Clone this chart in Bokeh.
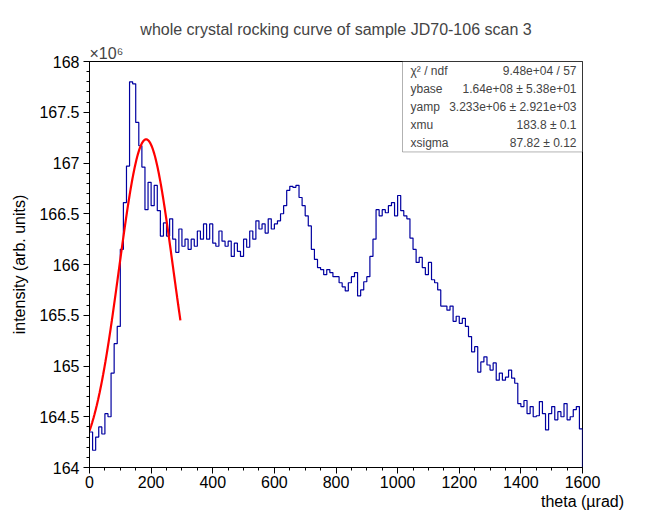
import numpy as np
from bokeh.plotting import figure
from bokeh.models import Label, BoxAnnotation, Range1d, FixedTicker, Title
from bokeh.embed import file_html
from bokeh.resources import INLINE

bin_width = 10
counts = [164.35,164.17,164.30,164.40,164.33,164.53,164.50,164.93,165.22,165.39,
166.15,166.61,166.97,167.80,167.78,167.40,167.17,166.96,166.54,166.81,
166.58,166.78,166.53,166.28,166.41,166.28,166.45,166.25,166.12,166.35,
166.18,166.25,166.15,166.25,166.18,166.33,166.25,166.40,166.25,166.40,
166.21,166.18,166.33,166.23,166.18,166.23,166.08,166.21,166.13,166.08,
166.25,166.17,166.33,166.25,166.43,166.35,166.40,166.31,166.45,166.35,
166.40,166.43,166.50,166.58,166.73,166.77,166.76,166.78,166.66,166.58,
166.48,166.38,166.15,166.05,165.97,165.95,165.90,165.95,165.92,165.88,
165.88,165.82,165.78,165.74,165.82,165.88,165.92,165.69,165.75,165.83,
165.88,166.08,166.25,166.54,166.48,166.54,166.51,166.58,166.61,166.48,
166.68,166.53,166.48,166.45,166.26,166.15,166.02,166.07,165.97,165.90,
166.02,165.85,165.82,165.75,165.59,165.59,165.55,165.59,165.44,165.49,
165.42,165.47,165.39,165.29,165.14,165.19,164.94,165.04,165.09,165.01,
164.96,165.03,164.86,164.93,164.86,164.89,164.96,164.88,164.83,164.63,
164.60,164.66,164.53,164.60,164.50,164.51,164.65,164.53,164.37,164.53,
164.60,164.47,164.55,164.50,164.63,164.47,164.50,164.57,164.60,164.38]

fit_base = 164.0
fit_amp = 3.233
fit_mu = 183.8
fit_sigma = 87.82
fit_xmax = 295

stat_names = ["\u03c7\u00b2 / ndf", "ybase", "yamp", "xmu", "xsigma"]
stat_values = ["9.48e+04 / 57", "1.64e+08 \u00b1 5.38e+01", "3.233e+06 \u00b1 2.921e+03",
               "183.8 \u00b1 0.1", "87.82 \u00b1 0.12"]

p = figure(width=640, height=512, output_backend="svg", toolbar_location=None,
           x_range=Range1d(0, 1600), y_range=Range1d(164, 168))
p.min_border_left = 89
p.min_border_right = 58
p.min_border_top = 61
p.min_border_bottom = 10
p.outline_line_color = "black"
p.grid.visible = False
p.border_fill_color = "white"

p.add_layout(Title(text="\u00d710\u2076", align="left", text_font="Liberation Sans",
                   text_font_size="16px", text_font_style="normal", offset=0, standoff=0), "above")
p.add_layout(Title(text="whole crystal rocking curve of sample JD70-106 scan 3", align="center",
                   text_font="Liberation Sans", text_font_size="16px", text_font_style="normal",
                   standoff=10, offset=10), "above")

for ax in (p.xaxis[0], p.yaxis[0]):
    ax.major_tick_in = 0
    ax.major_tick_out = 6
    ax.minor_tick_in = 0
    ax.minor_tick_out = 3
    ax.axis_line_color = "black"
    ax.major_label_text_font = "Liberation Sans"
    ax.major_label_text_font_size = "16px"
    ax.major_label_text_color = "black"
    ax.axis_label_text_font = "Liberation Sans"
    ax.axis_label_text_font_size = "16px"
    ax.axis_label_text_font_style = "normal"
    ax.axis_label_text_color = "black"
    ax.axis_label_standoff = 2
p.xaxis[0].axis_label_align = "end"
p.xaxis[0].ticker = FixedTicker(ticks=list(range(0, 1601, 200)), minor_ticks=list(range(0, 1601, 50)))
p.yaxis[0].ticker = FixedTicker(ticks=[164 + 0.5 * i for i in range(9)],
                                minor_ticks=[round(164 + 0.1 * i, 2) for i in range(41)])
p.xaxis[0].major_label_standoff = 2
p.yaxis[0].major_label_standoff = 4
p.yaxis[0].axis_label_standoff = 8
p.xaxis[0].axis_label = "theta (\u00b5rad)"
p.yaxis[0].axis_label = "intensity (arb. units)"

edges = [i * bin_width for i in range(len(counts) + 1)]
ys = counts + [counts[-1]]
p.step(edges, ys, mode="after", line_color="#0000a0", line_width=1.2)
p.segment(x0=[edges[-1]], y0=[counts[-1]], x1=[edges[-1]], y1=[164], line_color="#0000a0", line_width=1.2)

fx = np.linspace(0, fit_xmax, 200)
fy = fit_base + fit_amp * np.exp(-(fx - fit_mu) ** 2 / (2 * fit_sigma ** 2))
p.line(fx, fy, line_color="red", line_width=2.2)

ypp = 4 / 404.0
xpp = 1600 / 493.0

bl = (410 - 97) * xpp
bb = 168 - 90 * ypp
p.add_layout(BoxAnnotation(left=bl, right=1600, top=168, bottom=bb, fill_color="white", fill_alpha=1,
                           line_color="black", line_width=1, level="overlay"))
for i, (n, v) in enumerate(zip(stat_names, stat_values)):
    yy = 168 - (9 + 18 * i) * ypp
    p.add_layout(Label(x=bl + 8 * xpp, y=yy, text=n, text_font="Liberation Sans", text_font_size="12px",
                       text_baseline="middle", level="overlay"))
    p.add_layout(Label(x=1600 - 6 * xpp, y=yy, text=v, text_font="Liberation Sans", text_font_size="12px",
                       text_baseline="middle", text_align="right", level="overlay"))

open("out.html", "w").write(file_html(p, INLINE))
